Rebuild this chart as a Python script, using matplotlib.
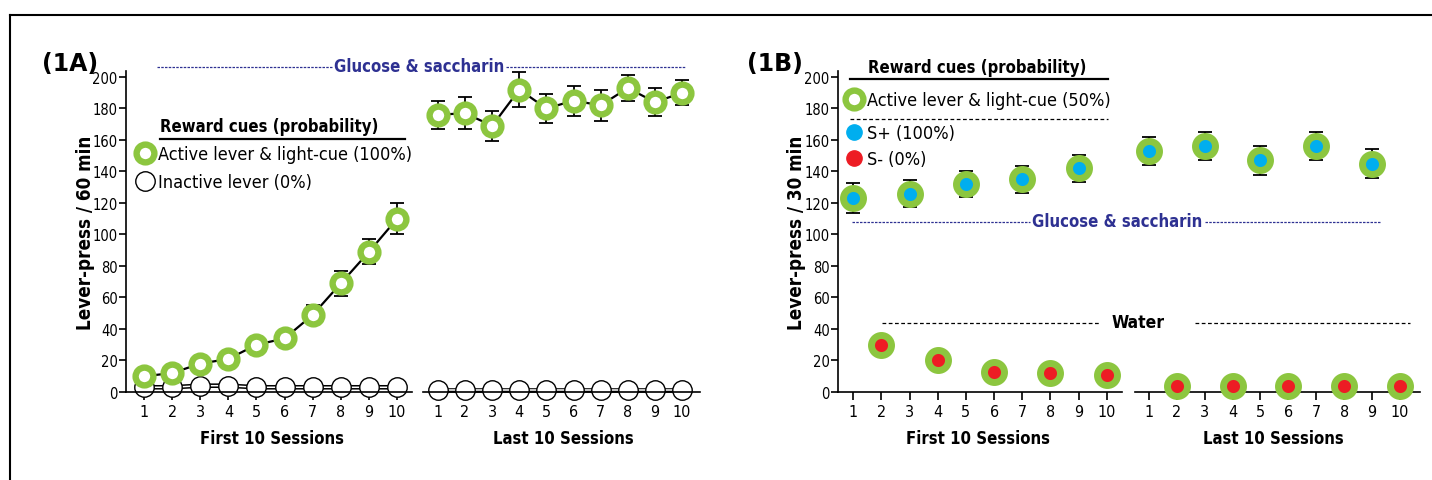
import matplotlib
matplotlib.use("Agg")
import matplotlib.pyplot as plt
from matplotlib.lines import Line2D

W, H = 1432, 481

plt.rcParams['font.family'] = ['DejaVu Sans']
plt.rcParams['font.stretch'] = 'condensed'

# ---------------- data ----------------
sessions = list(range(1, 11))
yticks = [0, 20, 40, 60, 80, 100, 120, 140, 160, 180, 200]

# (1A) glucose & saccharin, 60 min
a_first_active = [10, 12, 18, 21, 30, 34, 49, 69, 89, 110]
a_first_active_err = [3, 3, 4, 4, 5, 5, 6, 8, 8, 10]
a_first_inactive = [3, 3, 4, 4, 3, 3, 3, 3, 3, 3]
a_last_active = [176, 177, 169, 192, 180, 185, 182, 193, 184, 190]
a_last_active_err = [9, 10, 9.5, 11, 9.5, 9.5, 10, 8.5, 9, 8]
a_last_inactive = [1, 1, 1, 1, 1, 1, 1, 1, 1, 1]

# (1B) 30 min, S+ on odd sessions, S- on even sessions
b_splus_sess = [1, 3, 5, 7, 9]
b_sminus_sess = [2, 4, 6, 8, 10]
b_first_splus = [123, 126, 132, 135, 142]
b_first_splus_err = [9.5, 8.5, 8.5, 8.5, 8.5]
b_last_splus = [153, 156, 147, 156, 145]
b_last_splus_err = [9, 9, 9, 9, 9]
b_first_sminus = [30, 20, 13, 12, 11]
b_last_sminus = [4, 4, 4, 4, 4]

green = '#8cc63f'
blue = '#00aeef'
red = '#ed1c24'
navy = '#2e3192'


def fx(x):
    return x / W


def fy(y):
    return 1 - y / H


fig = plt.figure(figsize=(W / 100, H / 100), dpi=100)


def add_ax(x0, x1, xlim, first):
    ax = fig.add_axes([fx(x0), fy(393), (x1 - x0) / W, (393 - 72) / H])
    ax.set_xlim(*xlim)
    ax.set_ylim(0, 203.8)
    ax.spines['top'].set_visible(False)
    ax.spines['right'].set_visible(False)
    ax.spines['bottom'].set_linewidth(1.2)
    ax.spines['left'].set_linewidth(1.2)
    ax.set_xticks(sessions)
    ax.tick_params(axis='x', length=6, width=1.2, pad=3, labelsize=11.5)
    if first:
        ax.set_yticks(yticks)
        ax.tick_params(axis='y', length=5, width=1.2, pad=1, labelsize=10.5)
    else:
        ax.spines['left'].set_visible(False)
        ax.set_yticks([])
    return ax


axA1 = add_ax(126, 412, (0.36, 10.53), True)
axA2 = add_ax(423, 700, (0.45, 10.66), False)
axB1 = add_ax(838, 1122, (0.46, 10.54), True)
axB2 = add_ax(1135, 1420, (0.5, 10.72), False)

ring = dict(marker='o', ms=12.8, mfc='white', mec=green, mew=4.6, clip_on=False)
open_c = dict(marker='o', ms=14, mfc='white', mec='black', mew=1, clip_on=False)
errkw = dict(fmt='none', ecolor='black', elinewidth=1.3, capsize=5, capthick=1.3, clip_on=False)

# ---------- (1A) ----------
for ax, act, err, ina in [(axA1, a_first_active, a_first_active_err, a_first_inactive),
                          (axA2, a_last_active, a_last_active_err, a_last_inactive)]:
    ax.plot(sessions, ina, color='black', lw=3.3, zorder=2, clip_on=False)
    ax.plot(sessions, ina, color='white', lw=1.1, zorder=2.1, clip_on=False)
    ax.plot(sessions, ina, ls='none', zorder=2.2, **open_c)
    ax.errorbar(sessions, act, yerr=err, zorder=3, **errkw)
    ax.plot(sessions, act, color='black', lw=1.6, zorder=3.5, clip_on=False)
    ax.plot(sessions, act, ls='none', zorder=4, **ring)

axA1.set_ylabel('Lever-press / 60 min', fontsize=13.5, fontweight='bold')
axA1.yaxis.set_label_coords((95 - 126) / 286, 0.5)
axA1.set_xlabel('First 10 Sessions', fontsize=12, fontweight='bold')
axA1.xaxis.set_label_coords((272 - 126) / 286, (393 - 430) / 321)
axA2.set_xlabel('Last 10 Sessions', fontsize=12, fontweight='bold')
axA2.xaxis.set_label_coords((563 - 423) / 277, (393 - 430) / 321)

# ---------- (1B) ----------
bring = dict(marker='o', ms=14.4, mew=5.0, mec=green, ls='none', clip_on=False, zorder=4)
for ax, sp, sperr, sm in [(axB1, b_first_splus, b_first_splus_err, b_first_sminus),
                          (axB2, b_last_splus, b_last_splus_err, b_last_sminus)]:
    ax.errorbar(b_splus_sess, sp, yerr=sperr, zorder=3, **errkw)
    ax.plot(b_splus_sess, sp, mfc=blue, **bring)
    ax.plot(b_sminus_sess, sm, mfc=red, **bring)

axB1.set_ylabel('Lever-press / 30 min', fontsize=13.5, fontweight='bold')
axB1.yaxis.set_label_coords((806 - 838) / 284, 0.5)
axB1.set_xlabel('First 10 Sessions', fontsize=12, fontweight='bold')
axB1.xaxis.set_label_coords((978 - 838) / 284, (393 - 430) / 321)
axB2.set_xlabel('Last 10 Sessions', fontsize=12, fontweight='bold')
axB2.xaxis.set_label_coords((1273 - 1135) / 285, (393 - 430) / 321)

# ---------- annotations ----------
def hline(x0, x1, y, **kw):
    fig.add_artist(Line2D([fx(x0), fx(x1)], [fy(y), fy(y)], **kw))


# outer frame
hline(10, W, 16, color='black', lw=1.5)
fig.add_artist(Line2D([fx(10), fx(10)], [fy(16), 0], color='black', lw=1.5))

fig.text(fx(42), fy(64), '(1A)', fontsize=17, fontweight='bold', fontstretch='normal', va='center')
fig.text(fx(747), fy(64), '(1B)', fontsize=17, fontweight='bold', fontstretch='normal', va='center')

navy_dash = dict(color=navy, lw=0.9, ls=(0, (2, 1)))
black_dash = dict(color='black', lw=0.9, ls=(0, (3, 2)))

fig.text(fx(419), fy(67), 'Glucose & saccharin', color=navy, fontsize=12, fontweight='bold',
         ha='center', va='center')
hline(157, 333, 68, **navy_dash)
hline(506, 685, 68, **navy_dash)

fig.text(fx(1117), fy(222), 'Glucose & saccharin', color=navy, fontsize=12, fontweight='bold',
         ha='center', va='center')
hline(852, 1030, 223, **navy_dash)
hline(1205, 1380, 223, **navy_dash)

fig.text(fx(1138), fy(323), 'Water', fontsize=12.5, fontweight='bold', ha='center', va='center')
hline(882, 1100, 324, **black_dash)
hline(1195, 1410, 324, **black_dash)

# legend (1A)
fig.text(fx(160), fy(127), 'Reward cues (probability)', fontsize=12, fontweight='bold', va='center')
hline(160, 405, 140, color='black', lw=1.6)
hA = [Line2D([], [], ls='none', **{k: v for k, v in ring.items() if k != 'clip_on'}),
      Line2D([], [], ls='none', **{k: v for k, v in open_c.items() if k != 'clip_on'})]
fig.legend(hA, ['Active lever & light-cue (100%)', 'Inactive lever (0%)'],
           loc='upper left', bbox_to_anchor=(fx(136), fy(146)), frameon=False, fontsize=13,
           handlelength=1.0, handletextpad=0.2, borderpad=0, borderaxespad=0, labelspacing=0.55)

# legend (1B)
fig.text(fx(868), fy(68), 'Reward cues (probability)', fontsize=12, fontweight='bold', va='center')
hline(850, 1108, 80, color='black', lw=1.6)
hline(850, 1108, 120, **black_dash)
hB1 = [Line2D([], [], ls='none', **{k: v for k, v in ring.items() if k != 'clip_on'})]
fig.legend(hB1, ['Active lever & light-cue (50%)'],
           loc='upper left', bbox_to_anchor=(fx(845), fy(92)), frameon=False, fontsize=13,
           handlelength=1.0, handletextpad=0.2, borderpad=0, borderaxespad=0)
hB2 = [Line2D([], [], ls='none', marker='o', ms=11, mfc=blue, mec=blue),
       Line2D([], [], ls='none', marker='o', ms=11, mfc=red, mec=red)]
fig.legend(hB2, ['S+ (100%)', 'S- (0%)'],
           loc='upper left', bbox_to_anchor=(fx(845), fy(125)), frameon=False, fontsize=13,
           handlelength=1.0, handletextpad=0.2, borderpad=0, borderaxespad=0, labelspacing=0.45)

fig.savefig('out.png', dpi=100)
